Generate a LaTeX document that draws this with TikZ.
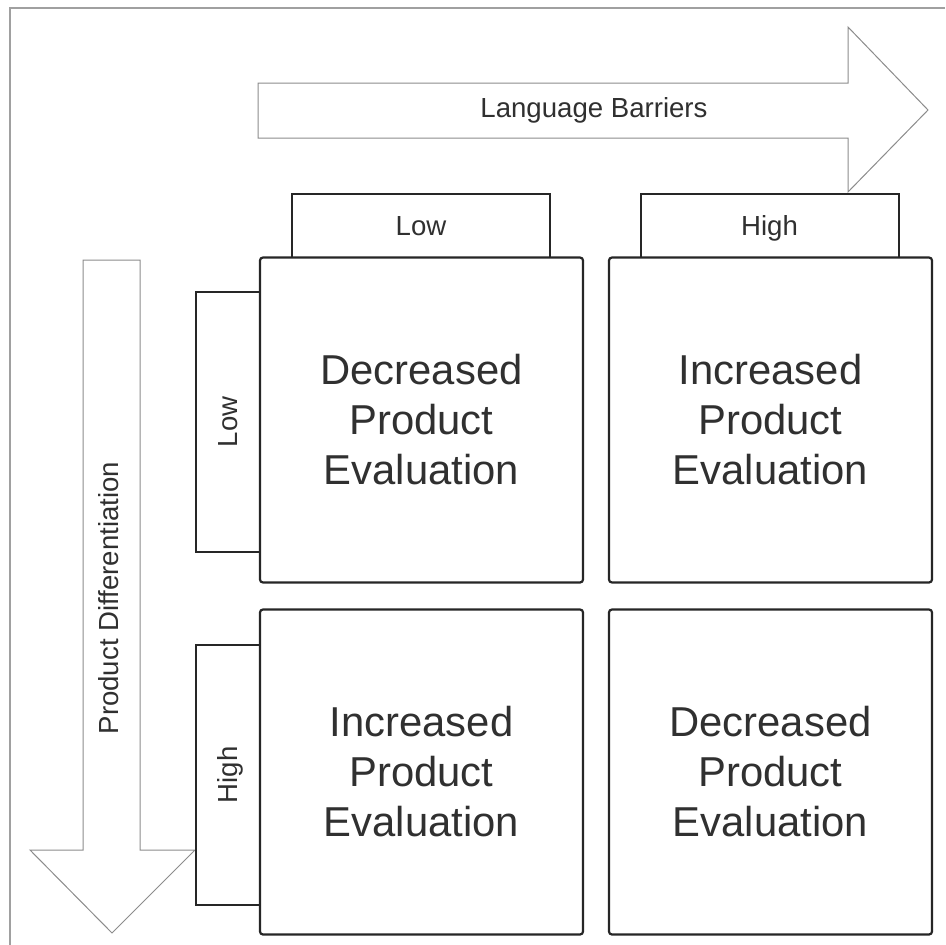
\documentclass[tikz,border=0pt]{standalone}
\usepackage{fontspec}
\setmainfont{Liberation Sans}
\definecolor{boxline}{HTML}{262626}
\definecolor{arrowline}{HTML}{8C8C8C}
\definecolor{frameline}{HTML}{A0A0A0}
\definecolor{txt}{HTML}{303030}
\tikzset{
  cell/.style={draw=boxline, line width=1.1bp, rounded corners=1.5bp, fill=white,
    minimum width=161.5bp, minimum height=162.5bp, inner sep=0pt, align=center,
    text=txt, font=\fontsize{20.9bp}{25bp}\selectfont},
  tab/.style={draw=boxline, line width=1bp, fill=white, inner sep=0pt,
    text height=11bp, text depth=2bp,
    text=txt, font=\fontsize{13.8bp}{16bp}\selectfont},
  blockarrow/.style={draw=arrowline, line width=0.5bp, fill=white},
  arrowtext/.style={text=txt, font=\fontsize{13.8bp}{16bp}\selectfont, inner sep=0pt,
    text height=10bp, text depth=3bp},
}
\begin{document}
\begin{tikzpicture}[x=0.5bp, y=-0.5bp]
\useasboundingbox (0,0) rectangle (945,945);
% frame
\draw[frameline, line width=0.6bp] (945,8) -- (10,8) -- (10,945);

% horizontal arrow
\filldraw[blockarrow] (258,83) -- (848,83) -- (848,27) -- (928,110)
	-- (848,192) -- (848,138) -- (258,138) -- cycle;
\node[arrowtext] (lang) at (594,110) {Language Barriers};

% vertical arrow
\filldraw[blockarrow] (83,260) -- (83,850) -- (30,850) -- (112,933)
	-- (195,850) -- (140,850) -- (140,260) -- cycle;
\node[arrowtext, rotate=90] (diff) at (111,598) {Product Differentiation};

% column and row tabs
\node[tab, minimum width=129bp, minimum height=32bp] (colLow) at (421,226) {Low};
\node[tab, minimum width=129bp, minimum height=32bp] (colHigh) at (769.5,226) {High};
\node[tab, rotate=90, minimum width=130bp, minimum height=32bp] (rowLow) at (228,422) {Low};
\node[tab, rotate=90, minimum width=130bp, minimum height=32bp] (rowHigh) at (228,775) {High};

% cells
\node[cell] (tl) at (421.5,420) {Decreased\\Product\\Evaluation};
\node[cell] (tr) at (770.5,420) {Increased\\Product\\Evaluation};
\node[cell] (bl) at (421.5,772) {Increased\\Product\\Evaluation};
\node[cell] (br) at (770.5,772) {Decreased\\Product\\Evaluation};

\end{tikzpicture}
\end{document}
